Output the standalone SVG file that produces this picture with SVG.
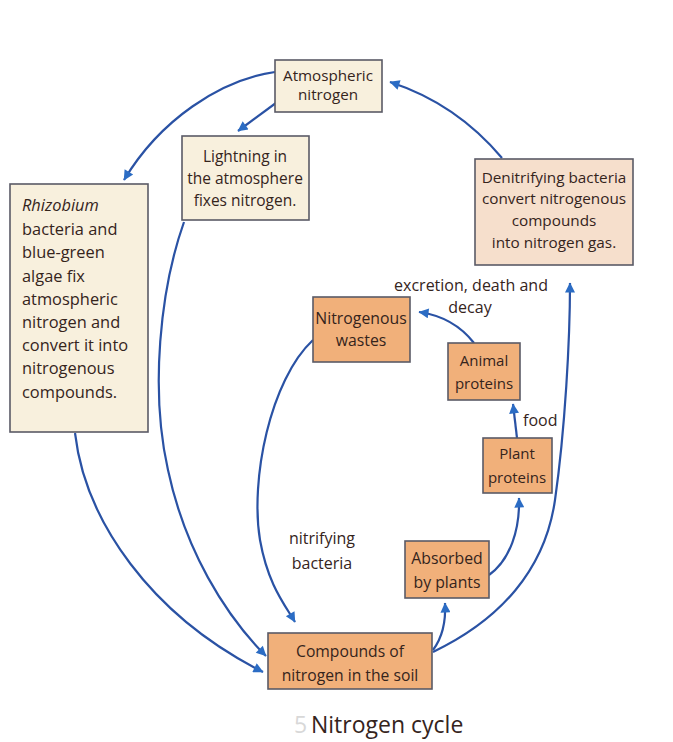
<svg xmlns="http://www.w3.org/2000/svg" width="673" height="742" viewBox="0 0 673 742">
<style>
.box{stroke:#5a5a66;stroke-width:1.6}
.pale{fill:#f8f0dd}
.pink{fill:#f6dfcc}
.org{fill:#f1b07a}
.t{font-family:"Open Sans","Liberation Sans",sans-serif;fill:#35241c;text-anchor:middle}
.c{fill:none;stroke:#2a52a4;stroke-width:2.2;marker-end:url(#ah)}
</style>
<defs>
<marker id="ah" viewBox="0 0 10 10" refX="9.5" refY="5" markerWidth="12" markerHeight="10" markerUnits="userSpaceOnUse" orient="auto">
<path d="M0,0 L10,5 L0,10 z" fill="#2b6cc4"/>
</marker>
</defs>
<rect width="673" height="742" fill="#ffffff"/>
<g id="connectors">
<path class="c" d="M275,72 C220,80 160,120 124,180"/>
<path class="c" d="M280,100 L238,131"/>
<path class="c" d="M502,158 C470,120 430,95 390,82"/>
<path class="c" d="M184,222 C160,290 150,390 168,470 C185,550 225,615 266,656"/>
<path class="c" d="M75,433 C85,520 150,615 263,672"/>
<path class="c" d="M313,340 C270,380 250,480 260,540 C268,585 285,605 295,622"/>
<path class="c" d="M433,650 C442,638 446,622 445,603"/>
<path class="c" d="M433,652 C500,620 545,570 555,500 C565,430 570,340 570,283"/>
<path class="c" d="M489,575 C510,560 520,530 519,498"/>
<path class="c" d="M517,438 L513,404"/>
<path class="c" d="M474,343 C460,325 440,315 419,312"/>
</g>
<g id="atmospheric">
<rect class="box pale" x="275" y="60" width="107" height="52"/>
<text class="t" x="328" y="81" font-size="15.2">Atmospheric</text>
<text class="t" x="328" y="100" font-size="15.2">nitrogen</text>
</g>
<g id="lightning">
<rect class="box pale" x="182" y="136" width="127" height="84"/>
<text class="t" x="245" y="162" font-size="15.5">Lightning in</text>
<text class="t" x="245" y="184" font-size="15.5">the atmosphere</text>
<text class="t" x="245" y="206" font-size="15.5">fixes nitrogen.</text>
</g>
<g id="denitrifying">
<rect class="box pink" x="475" y="159" width="158" height="106"/>
<text class="t" x="554" y="183" font-size="15.3">Denitrifying bacteria</text>
<text class="t" x="554" y="204" font-size="15.3">convert nitrogenous</text>
<text class="t" x="554" y="226" font-size="15.3">compounds</text>
<text class="t" x="554" y="248" font-size="15.3">into nitrogen gas.</text>
</g>
<g id="rhizobium">
<rect class="box pale" x="10" y="184" width="138" height="248"/>
<text class="t" style="text-anchor:start" x="22" y="211" font-size="16.4"><tspan font-style="italic">Rhizobium</tspan></text>
<text class="t" style="text-anchor:start" x="22" y="235" font-size="16.4">bacteria and</text>
<text class="t" style="text-anchor:start" x="22" y="258" font-size="16.4">blue-green</text>
<text class="t" style="text-anchor:start" x="22" y="282" font-size="16.4">algae fix</text>
<text class="t" style="text-anchor:start" x="22" y="305" font-size="16.4">atmospheric</text>
<text class="t" style="text-anchor:start" x="22" y="328" font-size="16.4">nitrogen and</text>
<text class="t" style="text-anchor:start" x="22" y="351" font-size="16.4">convert it into</text>
<text class="t" style="text-anchor:start" x="22" y="374" font-size="16.4">nitrogenous</text>
<text class="t" style="text-anchor:start" x="22" y="398" font-size="16.4">compounds.</text>
</g>
<g id="wastes">
<rect class="box org" x="313" y="297" width="97" height="65"/>
<text class="t" x="361" y="324" font-size="15.8">Nitrogenous</text>
<text class="t" x="361" y="346" font-size="15.8">wastes</text>
</g>
<g id="animal">
<rect class="box org" x="448" y="343" width="72" height="57"/>
<text class="t" x="484" y="366" font-size="15">Animal</text>
<text class="t" x="484" y="389" font-size="15">proteins</text>
</g>
<g id="plant">
<rect class="box org" x="483" y="438" width="69" height="55"/>
<text class="t" x="517" y="459" font-size="15">Plant</text>
<text class="t" x="517" y="483" font-size="15">proteins</text>
</g>
<g id="absorbed">
<rect class="box org" x="405" y="541" width="84" height="57"/>
<text class="t" x="447" y="564" font-size="15.8">Absorbed</text>
<text class="t" x="447" y="588" font-size="15.8">by plants</text>
</g>
<g id="soil">
<rect class="box org" x="268" y="633" width="164" height="56"/>
<text class="t" x="350" y="657" font-size="15.7">Compounds of</text>
<text class="t" x="350" y="681" font-size="15.7">nitrogen in the soil</text>
</g>
<g id="labels">
<text class="t" x="471" y="291" font-size="16">excretion, death and</text>
<text class="t" x="470" y="313" font-size="16">decay</text>
<text class="t" style="text-anchor:start" x="523" y="426" font-size="16">food</text>
<text class="t" x="322" y="544" font-size="16">nitrifying</text>
<text class="t" x="322" y="569" font-size="16">bacteria</text>
<text class="t" style="text-anchor:start;fill:#d8d8d8" x="294" y="733" font-size="23">5</text>
<text class="t" style="text-anchor:start" x="311" y="733" font-size="23">Nitrogen cycle</text>
</g>
</svg>
